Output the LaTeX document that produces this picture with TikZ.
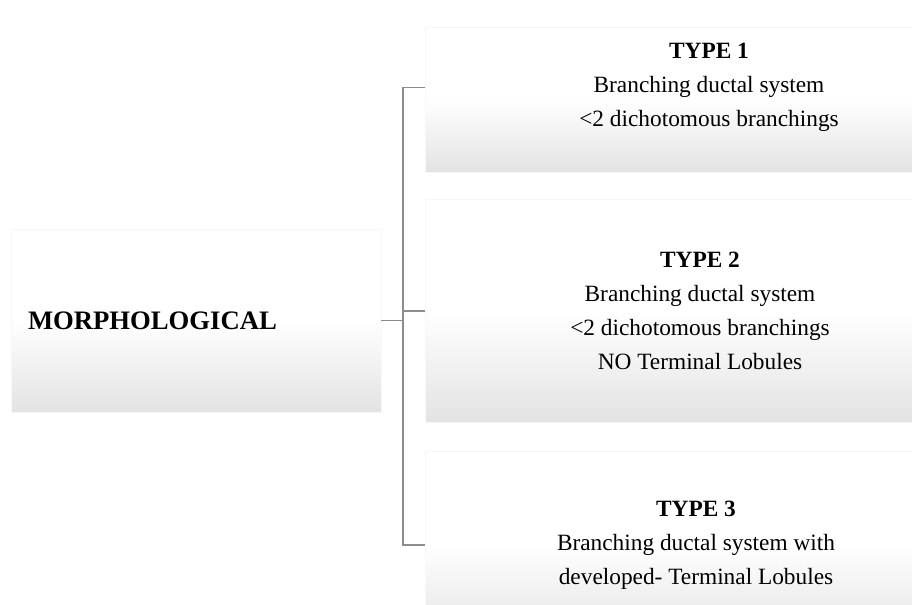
\documentclass[tikz,border=0pt]{standalone}
\usepackage{fontspec}
\setmainfont{Liberation Serif}
\usetikzlibrary{positioning}
\pgfdeclareverticalshading{softgray}{100bp}{color(0bp)=(black!11); color(25bp)=(black!11); color(50bp)=(white); color(100bp)=(white)}

\begin{document}
\begin{tikzpicture}
[x=0.75pt,y=-0.75pt]
\tikzstyle{box}=[rectangle,shading=softgray,draw=black!3,inner sep=0pt]
\tikzstyle{typetext}=[align=center,font=\fontsize{17.5}{25.5}\selectfont]
\tikzstyle{branch}=[draw=black!45,line width=0.9pt]
\useasboundingbox (0,0) rectangle (912,605);
\clip (0,0) rectangle (912,605);
\node[box,minimum height=137.25pt,text width=252pt,inner xsep=12.75pt,align=left,
      font=\fontsize{20}{24}\selectfont\bfseries] (morph) at (196,320.5) {MORPHOLOGICAL};
\node[box,minimum width=386.25pt,minimum height=108.75pt] (box1) at (682.5,99.5) {};
\node[box,minimum width=386.25pt,minimum height=167.25pt] (box2) at (682.5,310.5) {};
\node[box,minimum width=386.25pt,minimum height=141pt] (box3) at (682.5,545) {};
\node[typetext] (type1) at (709,87.5)
    {\textbf{TYPE 1}\\Branching ductal system\\<2 dichotomous branchings};
\node[typetext] (type2) at (700,311)
    {\textbf{TYPE 2}\\Branching ductal system\\<2 dichotomous branchings\\NO Terminal Lobules};
\node[typetext] (type3) at (696,545)
    {\textbf{TYPE 3}\\Branching ductal system with\\developed- Terminal Lobules};
\coordinate (fork) at (403,320.5);
\draw[branch] (morph) -- (fork);
\draw[branch] (type1 -| box1.west) -| (fork) |- (type3 -| box3.west);
\draw[branch] (fork |- type2) -- (type2 -| box2.west);
\end{tikzpicture}
\end{document}
